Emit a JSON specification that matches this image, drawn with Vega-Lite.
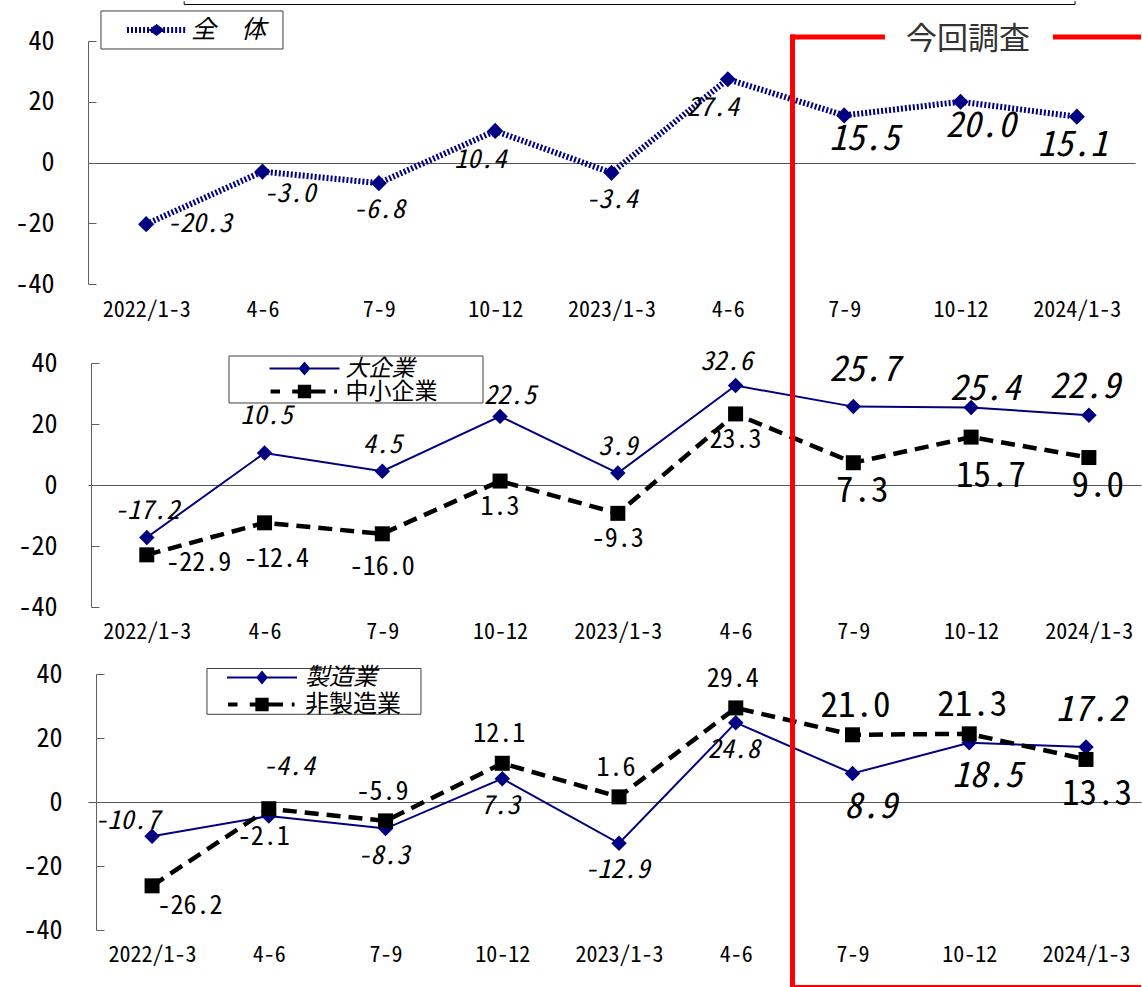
{
"$schema": "https://vega.github.io/schema/vega-lite/v6.json",
"background": "white",
"padding": {"left": 14, "top": 0, "right": 0, "bottom": 0},
"autosize": {"type": "pad"},
"config": {
  "view": {"stroke": null},
  "locale": {"number": {"decimal": ".", "thousands": ",", "grouping": [3], "currency": ["", ""], "minus": "-"}},
  "text": {"font": "Noto Sans Mono CJK JP, Noto Sans CJK JP, sans-serif", "color": "black", "align": "center", "baseline": "middle"}
},
"datasets": {
  "p1": [
    {"series": "全　体", "q": "2022/1-3", "value": -20.3},
    {"series": "全　体", "q": "2022/4-6", "value": -3.0},
    {"series": "全　体", "q": "2022/7-9", "value": -6.8},
    {"series": "全　体", "q": "2022/10-12", "value": 10.4},
    {"series": "全　体", "q": "2023/1-3", "value": -3.4},
    {"series": "全　体", "q": "2023/4-6", "value": 27.4},
    {"series": "全　体", "q": "2023/7-9", "value": 15.5},
    {"series": "全　体", "q": "2023/10-12", "value": 20.0},
    {"series": "全　体", "q": "2024/1-3", "value": 15.1}
  ],
  "p2": [
    {"series": "大企業", "q": "2022/1-3", "value": -17.2},
    {"series": "大企業", "q": "2022/4-6", "value": 10.5},
    {"series": "大企業", "q": "2022/7-9", "value": 4.5},
    {"series": "大企業", "q": "2022/10-12", "value": 22.5},
    {"series": "大企業", "q": "2023/1-3", "value": 3.9},
    {"series": "大企業", "q": "2023/4-6", "value": 32.6},
    {"series": "大企業", "q": "2023/7-9", "value": 25.7},
    {"series": "大企業", "q": "2023/10-12", "value": 25.4},
    {"series": "大企業", "q": "2024/1-3", "value": 22.9},
    {"series": "中小企業", "q": "2022/1-3", "value": -22.9},
    {"series": "中小企業", "q": "2022/4-6", "value": -12.4},
    {"series": "中小企業", "q": "2022/7-9", "value": -16.0},
    {"series": "中小企業", "q": "2022/10-12", "value": 1.3},
    {"series": "中小企業", "q": "2023/1-3", "value": -9.3},
    {"series": "中小企業", "q": "2023/4-6", "value": 23.3},
    {"series": "中小企業", "q": "2023/7-9", "value": 7.3},
    {"series": "中小企業", "q": "2023/10-12", "value": 15.7},
    {"series": "中小企業", "q": "2024/1-3", "value": 9.0}
  ],
  "p3": [
    {"series": "製造業", "q": "2022/1-3", "value": -10.7},
    {"series": "製造業", "q": "2022/4-6", "value": -4.4},
    {"series": "製造業", "q": "2022/7-9", "value": -8.3},
    {"series": "製造業", "q": "2022/10-12", "value": 7.3},
    {"series": "製造業", "q": "2023/1-3", "value": -12.9},
    {"series": "製造業", "q": "2023/4-6", "value": 24.8},
    {"series": "製造業", "q": "2023/7-9", "value": 8.9},
    {"series": "製造業", "q": "2023/10-12", "value": 18.5},
    {"series": "製造業", "q": "2024/1-3", "value": 17.2},
    {"series": "非製造業", "q": "2022/1-3", "value": -26.2},
    {"series": "非製造業", "q": "2022/4-6", "value": -2.1},
    {"series": "非製造業", "q": "2022/7-9", "value": -5.9},
    {"series": "非製造業", "q": "2022/10-12", "value": 12.1},
    {"series": "非製造業", "q": "2023/1-3", "value": 1.6},
    {"series": "非製造業", "q": "2023/4-6", "value": 29.4},
    {"series": "非製造業", "q": "2023/7-9", "value": 21.0},
    {"series": "非製造業", "q": "2023/10-12", "value": 21.3},
    {"series": "非製造業", "q": "2024/1-3", "value": 13.3}
  ]
},
"spacing": 79,
"bounds": "flush",
"resolve": {"scale": {"x": "independent", "y": "independent", "color": "independent"}, "legend": {"color": "independent"}},
"vconcat": [
{
  "width": 1047, "height": 243,
  "data": {"name": "p1"},
  "encoding": {
    "x": {"field": "q", "type": "ordinal",
      "scale": {"type": "point", "domain": ["2022/1-3","2022/4-6","2022/7-9","2022/10-12","2023/1-3","2023/4-6","2023/7-9","2023/10-12","2024/1-3"], "padding": 0.5},
      "axis": {"title": null, "domain": false, "ticks": false, "grid": false, "labelPadding": 15, "labelFont": "Noto Sans Mono CJK JP, Noto Sans CJK JP, sans-serif", "labelFontSize": 22, "labelColor": "black", "labelAngle": 0, "labelOverlap": false,
        "labelExpr": "indexof(datum.label, '/1-3') > 0 ? datum.label : split(datum.label, '/')[1]"}},
    "y": {"field": "value", "type": "quantitative",
      "scale": {"domain": [-40, 40], "nice": false, "zero": false},
      "axis": {"title": null, "values": [-40, -20, 0, 20, 40], "domainColor": "#606060", "tickColor": "#606060", "tickSize": -8, "labelPadding": 42, "offset": 0,
        "labelFont": "Noto Sans Mono CJK JP, Noto Sans CJK JP, sans-serif", "labelFontSize": 26, "labelColor": "black",
        "grid": true, "gridColor": "#555555", "gridOpacity": {"condition": {"test": "datum.value === 0", "value": 1}, "value": 0}}}
  },
  "layer": [
    {"transform": [{"filter": {"field": "q", "equal": "2022/1-3"}}], "mark": {"type": "rect", "fill": "white", "stroke": "#404040", "strokeWidth": 1, "xOffset": -45.2, "x2Offset": 136.8},
     "encoding": {"x2": {"field": "q"}, "y": {"datum": 49.88}, "y2": {"datum": 37.37}}},
    {"mark": {"type": "line", "strokeWidth": 6, "strokeDash": [2, 2]},
     "encoding": {"color": {"field": "series", "type": "nominal", "scale": {"domain": ["全　体"], "range": ["#000080"]},
       "legend": {"orient": "none", "legendX": 13, "legendY": -30, "title": null, "padding": 6,
         "symbolOffset": 20, "labelOffset": 5, "clipHeight": 26, "labelFont": "Noto Sans Mono CJK JP, Noto Sans CJK JP, sans-serif", "labelFontSize": 25, "labelFontStyle": "italic", "labelColor": "black",
         "symbolSize": 3481, "symbolStrokeWidth": 0,
         "symbolType": "M-1,-0.1h0.068v0.2h-0.068zM-0.864,-0.1h0.068v0.2h-0.068zM-0.728,-0.1h0.068v0.2h-0.068zM-0.592,-0.1h0.068v0.2h-0.068zM-0.456,-0.1h0.068v0.2h-0.068zM-0.32,-0.1h0.068v0.2h-0.068zM-0.184,-0.1h0.068v0.2h-0.068zM-0.048,-0.1h0.068v0.2h-0.068zM0.088,-0.1h0.068v0.2h-0.068zM0.224,-0.1h0.068v0.2h-0.068zM0.36,-0.1h0.068v0.2h-0.068zM0.496,-0.1h0.068v0.2h-0.068zM0.632,-0.1h0.068v0.2h-0.068zM0.768,-0.1h0.068v0.2h-0.068zM0.904,-0.1h0.068v0.2h-0.068zM0,-0.2L0.27,0L0,0.2L-0.27,0Z",
         "encode": {"symbols": {"update": {
           "shape": {"value": "M-1,-0.1h0.068v0.2h-0.068zM-0.864,-0.1h0.068v0.2h-0.068zM-0.728,-0.1h0.068v0.2h-0.068zM-0.592,-0.1h0.068v0.2h-0.068zM-0.456,-0.1h0.068v0.2h-0.068zM-0.32,-0.1h0.068v0.2h-0.068zM-0.184,-0.1h0.068v0.2h-0.068zM-0.048,-0.1h0.068v0.2h-0.068zM0.088,-0.1h0.068v0.2h-0.068zM0.224,-0.1h0.068v0.2h-0.068zM0.36,-0.1h0.068v0.2h-0.068zM0.496,-0.1h0.068v0.2h-0.068zM0.632,-0.1h0.068v0.2h-0.068zM0.768,-0.1h0.068v0.2h-0.068zM0.904,-0.1h0.068v0.2h-0.068zM0,-0.2L0.27,0L0,0.2L-0.27,0Z"},
           "fill": {"value": "#000080"}, "stroke": {"value": "#000080"}, "strokeWidth": {"value": 0}, "strokeDash": {"value": [1, 0]}, "opacity": {"value": 1}, "fillOpacity": {"value": 1}, "size": {"value": 3481}}}}}}}},
    {"mark": {"type": "point", "shape": "diamond", "filled": true, "size": 260, "color": "#000080", "opacity": 1}},
    {"transform": [{"filter": {"field": "q", "oneOf": ["2022/1-3"]}}], "mark": {"type": "text", "fontSize": 26, "fontStyle": "italic", "dx": 53, "dy": 0}, "encoding": {"text": {"field": "value", "type": "quantitative", "format": ".1f"}}},
    {"transform": [{"filter": {"field": "q", "oneOf": ["2022/4-6"]}}], "mark": {"type": "text", "fontSize": 26, "fontStyle": "italic", "dx": 27, "dy": 22}, "encoding": {"text": {"field": "value", "type": "quantitative", "format": ".1f"}}},
    {"transform": [{"filter": {"field": "q", "oneOf": ["2022/7-9", "2023/1-3"]}}], "mark": {"type": "text", "fontSize": 26, "fontStyle": "italic", "dx": 0, "dy": 27}, "encoding": {"text": {"field": "value", "type": "quantitative", "format": ".1f"}}},
    {"transform": [{"filter": {"field": "q", "oneOf": ["2022/10-12", "2023/4-6"]}}], "mark": {"type": "text", "fontSize": 26, "fontStyle": "italic", "dx": -15, "dy": 29}, "encoding": {"text": {"field": "value", "type": "quantitative", "format": ".1f"}}},
    {"transform": [{"filter": {"field": "q", "oneOf": ["2023/7-9", "2023/10-12"]}}], "mark": {"type": "text", "fontSize": 35, "fontStyle": "italic", "dx": 20, "dy": 24}, "encoding": {"text": {"field": "value", "type": "quantitative", "format": ".1f"}}},
    {"transform": [{"filter": {"field": "q", "oneOf": ["2024/1-3"]}}], "mark": {"type": "text", "fontSize": 35, "fontStyle": "italic", "dx": -4, "dy": 28}, "encoding": {"text": {"field": "value", "type": "quantitative", "format": ".1f"}}},
    {"transform": [{"filter": {"field": "q", "equal": "2022/1-3"}}], "mark": {"type": "rule", "color": "black", "strokeWidth": 1, "xOffset": 38, "x2Offset": 928.8},
     "encoding": {"x2": {"field": "q"}, "y": {"datum": 52.02}}},
    {"transform": [{"filter": {"field": "q", "equal": "2022/1-3"}}], "mark": {"type": "rule", "color": "black", "strokeWidth": 1, "xOffset": 38},
     "encoding": {"y": {"datum": 53.1}, "y2": {"datum": 52.02}}},
    {"transform": [{"filter": {"field": "q", "equal": "2024/1-3"}}], "mark": {"type": "rule", "color": "black", "strokeWidth": 1, "xOffset": -1.8},
     "encoding": {"y": {"datum": 53.1}, "y2": {"datum": 52.02}}}
  ]
},
{
  "spacing": 67,
  "bounds": "flush",
  "resolve": {"scale": {"x": "independent", "y": "independent", "color": "independent"}, "legend": {"color": "independent"}},
  "vconcat": [
  {
    "width": 1053, "height": 244,
    "data": {"name": "p2"},
    "encoding": {
      "x": {"field": "q", "type": "ordinal",
        "scale": {"type": "point", "domain": ["2022/1-3","2022/4-6","2022/7-9","2022/10-12","2023/1-3","2023/4-6","2023/7-9","2023/10-12","2024/1-3"], "padding": 0.471, "align": 0.53},
        "axis": {"title": null, "domain": false, "ticks": false, "grid": false, "labelPadding": 14, "labelFont": "Noto Sans Mono CJK JP, Noto Sans CJK JP, sans-serif", "labelFontSize": 22, "labelColor": "black", "labelAngle": 0, "labelOverlap": false,
          "labelExpr": "indexof(datum.label, '/1-3') > 0 ? datum.label : split(datum.label, '/')[1]"}},
      "y": {"field": "value", "type": "quantitative",
        "scale": {"domain": [-40, 40], "nice": false, "zero": false},
        "axis": {"title": null, "values": [-40, -20, 0, 20, 40], "domainColor": "#606060", "tickColor": "#606060", "tickSize": -8, "labelPadding": 42, "offset": -3,
          "labelFont": "Noto Sans Mono CJK JP, Noto Sans CJK JP, sans-serif", "labelFontSize": 26, "labelColor": "black",
          "grid": true, "gridColor": "#555555", "gridOpacity": {"condition": {"test": "datum.value === 0", "value": 1}, "value": 0}}}
    },
    "layer": [
      {"transform": [{"filter": {"field": "series", "equal": "大企業"}}, {"filter": {"field": "q", "equal": "2022/1-3"}}],
       "mark": {"type": "rect", "fill": "white", "stroke": "#404040", "strokeWidth": 1, "xOffset": 82.2, "x2Offset": 336.2},
       "encoding": {"x2": {"field": "q"}, "y": {"datum": 42.3}, "y2": {"datum": 26.89}}},
      {"transform": [{"filter": {"field": "series", "equal": "大企業"}}],
       "mark": {"type": "line", "strokeWidth": 2},
       "encoding": {"color": {"field": "series", "type": "nominal", "scale": {"domain": ["大企業", "中小企業"], "range": ["#000080", "#000000"]},
         "legend": {"orient": "none", "legendX": 141, "legendY": -7, "title": null, "padding": 1.5,
           "symbolOffset": 39, "labelOffset": 6, "clipHeight": 22, "rowPadding": -2.5, "labelFont": "Noto Sans Mono CJK JP, Noto Sans CJK JP, sans-serif", "labelFontSize": 23, "labelColor": "black",
           "symbolSize": 4900, "symbolStrokeWidth": 0, "symbolType": "M-1,-0.03H1V0.03H-1ZM0,-0.2L0.17,0L0,0.2L-0.17,0Z",
           "encode": {
             "labels": {"update": {"fontStyle": {"signal": "datum.value === '大企業' ? 'italic' : 'normal'"}}},
             "symbols": {"update": {
               "shape": {"signal": "datum.value === '大企業' ? 'M-1,-0.03H1V0.03H-1ZM0,-0.2L0.17,0L0,0.2L-0.17,0Z' : 'M-0.97,-0.06H-0.7V0.06H-0.97ZM-0.35,-0.06H0.6V0.06H-0.35ZM0.85,-0.06H0.93V0.06H0.85ZM-0.19,-0.19H0.19V0.19H-0.19Z'"},
               "fill": {"signal": "datum.value === '大企業' ? '#000080' : '#000000'"},
               "stroke": {"value": "transparent"},
               "strokeWidth": {"value": 0},
               "strokeDash": {"value": [1, 0]}, "opacity": {"value": 1}, "fillOpacity": {"value": 1}, "size": {"value": 4900}}}}}}}},
      {"transform": [{"filter": {"field": "series", "equal": "大企業"}}],
       "mark": {"type": "point", "shape": "diamond", "filled": true, "size": 240, "color": "#000080", "opacity": 1}},
      {"transform": [{"filter": {"field": "series", "equal": "中小企業"}}],
       "mark": {"type": "line", "strokeWidth": 4.5, "strokeDash": [14, 8], "color": "black"}},
      {"transform": [{"filter": {"field": "series", "equal": "中小企業"}}],
       "mark": {"type": "point", "shape": "square", "filled": true, "size": 225, "color": "black", "opacity": 1}},
      {"transform": [{"filter": {"field": "series", "equal": "大企業"}}, {"filter": {"field": "q", "oneOf": ["2022/1-3", "2022/7-9", "2023/1-3"]}}], "mark": {"type": "text", "fontSize": 26, "fontStyle": "italic", "dx": 0, "dy": -26}, "encoding": {"text": {"field": "value", "type": "quantitative", "format": ".1f"}}},
      {"transform": [{"filter": {"field": "series", "equal": "大企業"}}, {"filter": {"field": "q", "oneOf": ["2022/4-6"]}}], "mark": {"type": "text", "fontSize": 26, "fontStyle": "italic", "dx": 2, "dy": -37}, "encoding": {"text": {"field": "value", "type": "quantitative", "format": ".1f"}}},
      {"transform": [{"filter": {"field": "series", "equal": "大企業"}}, {"filter": {"field": "q", "oneOf": ["2022/10-12"]}}], "mark": {"type": "text", "fontSize": 26, "fontStyle": "italic", "dx": 10, "dy": -20}, "encoding": {"text": {"field": "value", "type": "quantitative", "format": ".1f"}}},
      {"transform": [{"filter": {"field": "series", "equal": "大企業"}}, {"filter": {"field": "q", "oneOf": ["2023/4-6"]}}], "mark": {"type": "text", "fontSize": 26, "fontStyle": "italic", "dx": -9, "dy": -24}, "encoding": {"text": {"field": "value", "type": "quantitative", "format": ".1f"}}},
      {"transform": [{"filter": {"field": "series", "equal": "大企業"}}, {"filter": {"field": "q", "oneOf": ["2023/7-9"]}}], "mark": {"type": "text", "fontSize": 35, "fontStyle": "italic", "dx": 11, "dy": -37}, "encoding": {"text": {"field": "value", "type": "quantitative", "format": ".1f"}}},
      {"transform": [{"filter": {"field": "series", "equal": "大企業"}}, {"filter": {"field": "q", "oneOf": ["2023/10-12"]}}], "mark": {"type": "text", "fontSize": 35, "fontStyle": "italic", "dx": 14, "dy": -19}, "encoding": {"text": {"field": "value", "type": "quantitative", "format": ".1f"}}},
      {"transform": [{"filter": {"field": "series", "equal": "大企業"}}, {"filter": {"field": "q", "oneOf": ["2024/1-3"]}}], "mark": {"type": "text", "fontSize": 35, "fontStyle": "italic", "dx": -4, "dy": -28}, "encoding": {"text": {"field": "value", "type": "quantitative", "format": ".1f"}}},
      {"transform": [{"filter": {"field": "series", "equal": "中小企業"}}, {"filter": {"field": "q", "oneOf": ["2022/1-3"]}}], "mark": {"type": "text", "fontSize": 26, "dx": 52, "dy": 8}, "encoding": {"text": {"field": "value", "type": "quantitative", "format": ".1f"}}},
      {"transform": [{"filter": {"field": "series", "equal": "中小企業"}}, {"filter": {"field": "q", "oneOf": ["2022/4-6"]}}], "mark": {"type": "text", "fontSize": 26, "dx": 12, "dy": 36}, "encoding": {"text": {"field": "value", "type": "quantitative", "format": ".1f"}}},
      {"transform": [{"filter": {"field": "series", "equal": "中小企業"}}, {"filter": {"field": "q", "oneOf": ["2022/7-9"]}}], "mark": {"type": "text", "fontSize": 26, "dx": 0, "dy": 33}, "encoding": {"text": {"field": "value", "type": "quantitative", "format": ".1f"}}},
      {"transform": [{"filter": {"field": "series", "equal": "中小企業"}}, {"filter": {"field": "q", "oneOf": ["2022/10-12", "2023/1-3", "2023/4-6"]}}], "mark": {"type": "text", "fontSize": 26, "dx": 0, "dy": 26}, "encoding": {"text": {"field": "value", "type": "quantitative", "format": ".1f"}}},
      {"transform": [{"filter": {"field": "series", "equal": "中小企業"}}, {"filter": {"field": "q", "oneOf": ["2023/7-9", "2024/1-3"]}}], "mark": {"type": "text", "fontSize": 35, "dx": 9, "dy": 28}, "encoding": {"text": {"field": "value", "type": "quantitative", "format": ".1f"}}},
      {"transform": [{"filter": {"field": "series", "equal": "中小企業"}}, {"filter": {"field": "q", "oneOf": ["2023/10-12"]}}], "mark": {"type": "text", "fontSize": 35, "dx": 20, "dy": 39}, "encoding": {"text": {"field": "value", "type": "quantitative", "format": ".1f"}}}
    ]
  },
  {
    "width": 1053, "height": 256,
    "data": {"name": "p3"},
    "encoding": {
      "x": {"field": "q", "type": "ordinal",
        "scale": {"type": "point", "domain": ["2022/1-3","2022/4-6","2022/7-9","2022/10-12","2023/1-3","2023/4-6","2023/7-9","2023/10-12","2024/1-3"], "padding": 0.51, "align": 0.538},
        "axis": {"title": null, "domain": false, "ticks": false, "grid": false, "labelPadding": 14, "labelFont": "Noto Sans Mono CJK JP, Noto Sans CJK JP, sans-serif", "labelFontSize": 22, "labelColor": "black", "labelAngle": 0, "labelOverlap": false,
          "labelExpr": "indexof(datum.label, '/1-3') > 0 ? datum.label : split(datum.label, '/')[1]"}},
      "y": {"field": "value", "type": "quantitative",
        "scale": {"domain": [-40, 40], "nice": false, "zero": false},
        "axis": {"title": null, "values": [-40, -20, 0, 20, 40], "domainColor": "#606060", "tickColor": "#606060", "tickSize": -8, "labelPadding": 42, "offset": -8,
          "labelFont": "Noto Sans Mono CJK JP, Noto Sans CJK JP, sans-serif", "labelFontSize": 26, "labelColor": "black",
          "grid": true, "gridColor": "#555555", "gridOpacity": {"condition": {"test": "datum.value === 0", "value": 1}, "value": 0}}}
    },
    "layer": [
      {"transform": [{"filter": {"field": "series", "equal": "製造業"}}, {"filter": {"field": "q", "equal": "2022/1-3"}}],
       "mark": {"type": "rect", "fill": "white", "stroke": "#404040", "strokeWidth": 1, "xOffset": 54.9, "x2Offset": 268.9},
       "encoding": {"x2": {"field": "q"}, "y": {"datum": 41.72}, "y2": {"datum": 27.41}}},
      {"transform": [{"filter": {"field": "series", "equal": "製造業"}}],
       "mark": {"type": "line", "strokeWidth": 2},
       "encoding": {"color": {"field": "series", "type": "nominal", "scale": {"domain": ["製造業", "非製造業"], "range": ["#000080", "#000000"]},
         "legend": {"orient": "none", "legendX": 119, "legendY": -7.5, "title": null, "padding": 1,
           "symbolOffset": 19, "labelOffset": 8, "clipHeight": 20, "rowPadding": 3, "labelFont": "Noto Sans Mono CJK JP, Noto Sans CJK JP, sans-serif", "labelFontSize": 24, "labelColor": "black",
           "symbolSize": 4900, "symbolStrokeWidth": 0, "symbolType": "M-1,-0.03H1V0.03H-1ZM0,-0.2L0.17,0L0,0.2L-0.17,0Z",
           "encode": {
             "labels": {"update": {"fontStyle": {"signal": "datum.value === '製造業' ? 'italic' : 'normal'"}}},
             "symbols": {"update": {
               "shape": {"signal": "datum.value === '製造業' ? 'M-1,-0.03H1V0.03H-1ZM0,-0.2L0.17,0L0,0.2L-0.17,0Z' : 'M-0.97,-0.06H-0.7V0.06H-0.97ZM-0.35,-0.06H0.6V0.06H-0.35ZM0.85,-0.06H0.93V0.06H0.85ZM-0.19,-0.19H0.19V0.19H-0.19Z'"},
               "fill": {"signal": "datum.value === '製造業' ? '#000080' : '#000000'"},
               "stroke": {"value": "transparent"},
               "strokeWidth": {"value": 0},
               "strokeDash": {"value": [1, 0]}, "opacity": {"value": 1}, "fillOpacity": {"value": 1}, "size": {"value": 4900}}}}}}}},
      {"transform": [{"filter": {"field": "series", "equal": "製造業"}}],
       "mark": {"type": "point", "shape": "diamond", "filled": true, "size": 240, "color": "#000080", "opacity": 1}},
      {"transform": [{"filter": {"field": "series", "equal": "非製造業"}}],
       "mark": {"type": "line", "strokeWidth": 4.5, "strokeDash": [14, 8], "color": "black"}},
      {"transform": [{"filter": {"field": "series", "equal": "非製造業"}}],
       "mark": {"type": "point", "shape": "square", "filled": true, "size": 225, "color": "black", "opacity": 1}},
      {"transform": [{"filter": {"field": "series", "equal": "製造業"}}, {"filter": {"field": "q", "oneOf": ["2022/1-3"]}}], "mark": {"type": "text", "fontSize": 26, "fontStyle": "italic", "dx": -25, "dy": -15}, "encoding": {"text": {"field": "value", "type": "quantitative", "format": ".1f"}}},
      {"transform": [{"filter": {"field": "series", "equal": "製造業"}}, {"filter": {"field": "q", "oneOf": ["2022/4-6"]}}], "mark": {"type": "text", "fontSize": 26, "fontStyle": "italic", "dx": 20, "dy": -49}, "encoding": {"text": {"field": "value", "type": "quantitative", "format": ".1f"}}},
      {"transform": [{"filter": {"field": "series", "equal": "製造業"}}, {"filter": {"field": "q", "oneOf": ["2022/7-9", "2022/10-12", "2023/1-3", "2023/4-6"]}}], "mark": {"type": "text", "fontSize": 26, "fontStyle": "italic", "dx": -2, "dy": 27}, "encoding": {"text": {"field": "value", "type": "quantitative", "format": ".1f"}}},
      {"transform": [{"filter": {"field": "series", "equal": "製造業"}}, {"filter": {"field": "q", "oneOf": ["2023/7-9", "2023/10-12"]}}], "mark": {"type": "text", "fontSize": 35, "fontStyle": "italic", "dx": 18, "dy": 33}, "encoding": {"text": {"field": "value", "type": "quantitative", "format": ".1f"}}},
      {"transform": [{"filter": {"field": "series", "equal": "製造業"}}, {"filter": {"field": "q", "oneOf": ["2024/1-3"]}}], "mark": {"type": "text", "fontSize": 35, "fontStyle": "italic", "dx": 5, "dy": -37}, "encoding": {"text": {"field": "value", "type": "quantitative", "format": ".1f"}}},
      {"transform": [{"filter": {"field": "series", "equal": "非製造業"}}, {"filter": {"field": "q", "oneOf": ["2022/1-3"]}}], "mark": {"type": "text", "fontSize": 26, "dx": 38, "dy": 20}, "encoding": {"text": {"field": "value", "type": "quantitative", "format": ".1f"}}},
      {"transform": [{"filter": {"field": "series", "equal": "非製造業"}}, {"filter": {"field": "q", "oneOf": ["2022/4-6"]}}], "mark": {"type": "text", "fontSize": 26, "dx": -5, "dy": 28}, "encoding": {"text": {"field": "value", "type": "quantitative", "format": ".1f"}}},
      {"transform": [{"filter": {"field": "series", "equal": "非製造業"}}, {"filter": {"field": "q", "oneOf": ["2022/7-9", "2022/10-12", "2023/1-3", "2023/4-6"]}}], "mark": {"type": "text", "fontSize": 26, "dx": -3, "dy": -29}, "encoding": {"text": {"field": "value", "type": "quantitative", "format": ".1f"}}},
      {"transform": [{"filter": {"field": "series", "equal": "非製造業"}}, {"filter": {"field": "q", "oneOf": ["2023/7-9", "2023/10-12"]}}], "mark": {"type": "text", "fontSize": 35, "dx": 3, "dy": -29}, "encoding": {"text": {"field": "value", "type": "quantitative", "format": ".1f"}}},
      {"transform": [{"filter": {"field": "series", "equal": "非製造業"}}, {"filter": {"field": "q", "oneOf": ["2024/1-3"]}}], "mark": {"type": "text", "fontSize": 35, "dx": 11, "dy": 35}, "encoding": {"text": {"field": "value", "type": "quantitative", "format": ".1f"}}},
      {"transform": [{"filter": {"field": "series", "equal": "製造業"}}, {"filter": {"field": "q", "equal": "2023/7-9"}}],
       "mark": {"type": "rule", "color": "#ff0000", "strokeWidth": 5, "xOffset": -60},
       "encoding": {"y": {"datum": 239.84}, "y2": {"datum": -57.5}}},
      {"transform": [{"filter": {"field": "series", "equal": "製造業"}}, {"filter": {"field": "q", "equal": "2023/7-9"}}],
       "mark": {"type": "rule", "color": "#ff0000", "strokeWidth": 5, "xOffset": -62.5, "x2Offset": 32.5},
       "encoding": {"x2": {"field": "q"}, "y": {"datum": 239.06}}},
      {"transform": [{"filter": {"field": "series", "equal": "製造業"}}, {"filter": {"field": "q", "equal": "2024/1-3"}}],
       "mark": {"type": "rule", "color": "#ff0000", "strokeWidth": 5, "xOffset": -33, "x2Offset": 55},
       "encoding": {"x2": {"field": "q"}, "y": {"datum": 239.06}}},
      {"transform": [{"filter": {"field": "series", "equal": "製造業"}}, {"filter": {"field": "q", "equal": "2023/7-9"}}],
       "mark": {"type": "rule", "color": "#ff0000", "strokeWidth": 2, "xOffset": -62.5, "x2Offset": 288.5},
       "encoding": {"x2": {"field": "q"}, "y": {"datum": -57.5}}},
      {"transform": [{"filter": {"field": "series", "equal": "製造業"}}, {"filter": {"field": "q", "equal": "2024/1-3"}}],
       "mark": {"type": "text", "font": "Noto Sans CJK JP", "fontSize": 31, "color": "#333333", "xOffset": -118},
       "encoding": {"y": {"datum": 238.1}, "text": {"value": "今回調査"}}}
    ]
  }
  ]
}
]
}
